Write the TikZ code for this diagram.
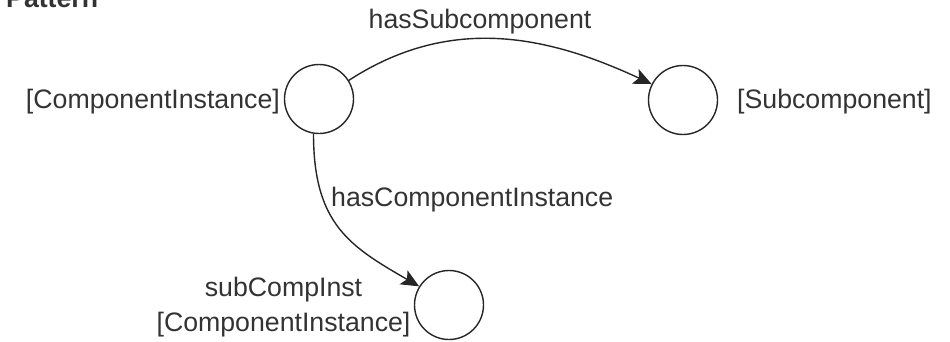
\documentclass[tikz,border=0pt]{standalone}
\usepackage{fontspec}
\setmainfont{Liberation Sans}
\usetikzlibrary{arrows.meta}
\begin{document}
\begin{tikzpicture}[x=1pt,y=1pt,
  state/.style={circle,draw=black!85,line width=1.4pt,minimum size=69pt,inner sep=0pt},
  lbl/.style={inner sep=0pt,font=\fontsize{26.7}{35}\selectfont,text=black!80},
  edge/.style={line width=1.4pt,draw=black!85,-{Stealth[length=18pt,width=16pt,inset=4pt]}}]
\useasboundingbox (0,0) rectangle (950,341);
\node[lbl,anchor=base west,font=\fontsize{26.7}{35}\selectfont\bfseries] (title) at (6,334) {Pattern};
\node[state] (c1) at (319,242) {};
\node[state] (c2) at (683,241) {};
\node[state] (c3) at (449,36) {};
\node[lbl,anchor=base east] (l1) at (280,233) {[ComponentInstance]};
\node[lbl,anchor=base west] (l2) at (737,233) {[Subcomponent]};
\node[lbl,align=center] (l3) at (283.5,33.5) {subCompInst\\[0pt][ComponentInstance]};
\draw[edge] (c1.32) to[out=33,in=155] (c2.153);
\node[lbl,anchor=base] (e1t) at (480,312.5) {hasSubcomponent};
\draw[edge] (c1.261) to[out=-90,in=150,out looseness=1.25,in looseness=1.1] (c3.148);
\node[lbl,anchor=base west] (e2t) at (331,135) {hasComponentInstance};
\end{tikzpicture}
\end{document}
